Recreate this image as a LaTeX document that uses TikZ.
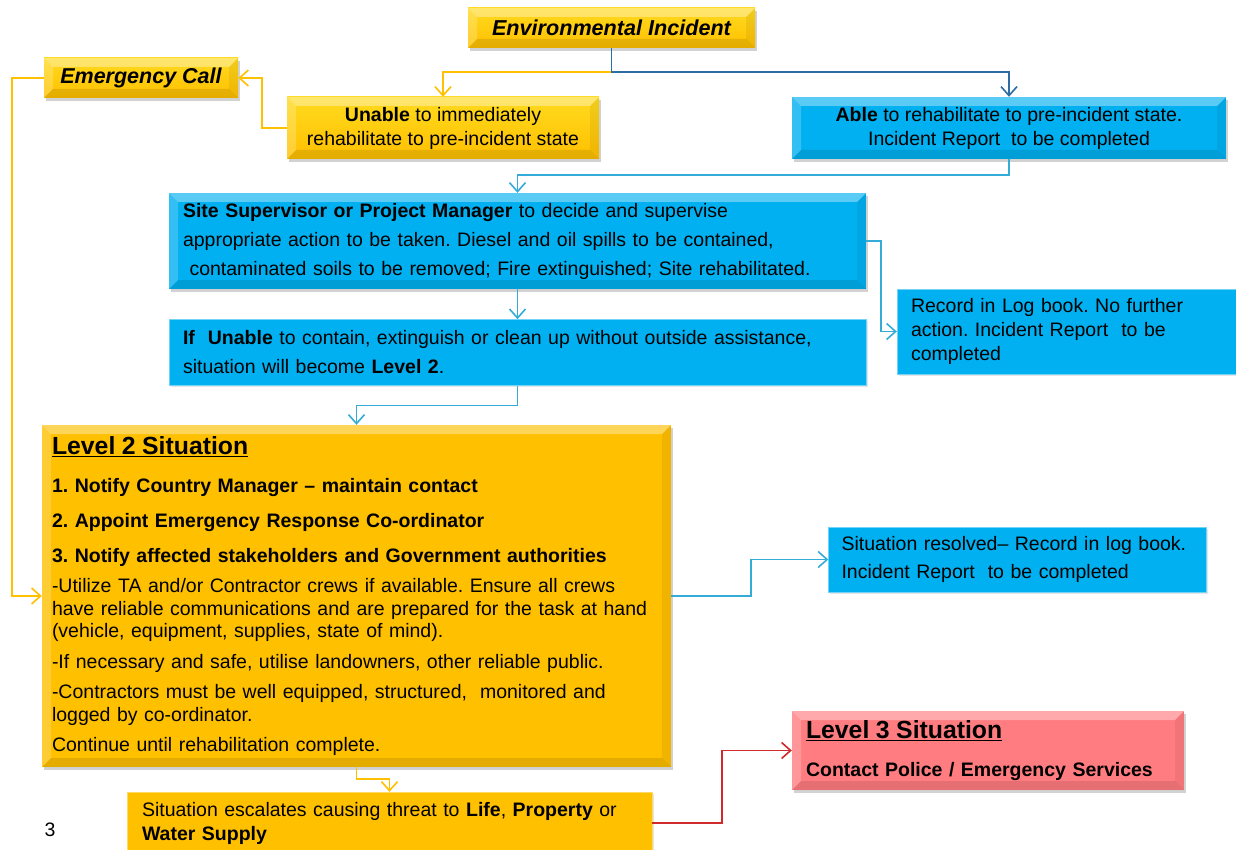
\documentclass[tikz,border=0pt]{standalone}
\usepackage{fontspec}
\setmainfont{Liberation Sans}
\usetikzlibrary{arrows.meta, positioning, shadows}
\frenchspacing

\definecolor{gold}{HTML}{FFC000}
\definecolor{goldlight}{HTML}{FFDA1F}
\definecolor{skyblue}{HTML}{00B0F0}
\definecolor{rosered}{HTML}{FF7C80}
\definecolor{cyanline}{HTML}{35ACD8}
\definecolor{navyline}{HTML}{2E6DA4}
\definecolor{redline}{HTML}{D02A2A}

\tikzstyle{bevel}=[path picture={
  \fill[white, opacity=0.35] (path picture bounding box.north west) -- (path picture bounding box.north east)
    -- ([xshift=-9pt,yshift=-9pt]path picture bounding box.north east) -- ([xshift=9pt,yshift=-9pt]path picture bounding box.north west) -- cycle;
  \fill[white, opacity=0.2] (path picture bounding box.north west) -- (path picture bounding box.south west)
    -- ([xshift=9pt,yshift=9pt]path picture bounding box.south west) -- ([xshift=9pt,yshift=-9pt]path picture bounding box.north west) -- cycle;
  \fill[black, opacity=0.06] (path picture bounding box.north east) -- (path picture bounding box.south east)
    -- ([xshift=-9pt,yshift=9pt]path picture bounding box.south east) -- ([xshift=-9pt,yshift=-9pt]path picture bounding box.north east) -- cycle;
  \fill[black, opacity=0.1] (path picture bounding box.south west) -- (path picture bounding box.south east)
    -- ([xshift=-9pt,yshift=9pt]path picture bounding box.south east) -- ([xshift=9pt,yshift=9pt]path picture bounding box.south west) -- cycle;
}]
\tikzstyle{box}=[rectangle, inner sep=0pt, font=\fontsize{19.5}{22.5}\selectfont]
\tikzstyle{goldbox}=[box, fill=gold, bevel, drop shadow={opacity=0.35, shadow xshift=2pt, shadow yshift=-3pt}]
\tikzstyle{bluebox}=[box, fill=skyblue, bevel, drop shadow={opacity=0.35, shadow xshift=2pt, shadow yshift=-3pt}]
\tikzstyle{flatblue}=[box, fill=skyblue, draw=skyblue!55!white, drop shadow={opacity=0.2, shadow xshift=1.5pt, shadow yshift=-2pt}]
\tikzstyle{flatgold}=[box, fill=gold, draw=gold!60!white, drop shadow={opacity=0.2, shadow xshift=1.5pt, shadow yshift=-2pt}]
\tikzstyle{pinkbox}=[box, fill=rosered, bevel, drop shadow={opacity=0.35, shadow xshift=2pt, shadow yshift=-3pt}]
\tikzstyle{link}=[->, line width=1.6pt, >={Straight Barb[length=9pt, width=16pt]}]

\begin{document}
\begin{tikzpicture}[x=1pt, y=-1pt]
\useasboundingbox[fill=white] (0,0) rectangle (1236,850);

% Incident and first split
\node[goldbox, top color=goldlight, bottom color=gold, minimum width=287pt, minimum height=40pt,
  font=\fontsize{21.6}{24}\selectfont\bfseries\itshape] (incident) at (611.5,28) {Environmental Incident};
\node[goldbox, top color=goldlight, bottom color=gold, minimum width=194pt, minimum height=40pt,
  font=\fontsize{21.5}{24}\selectfont\bfseries\itshape] (emergency) at (141,78) {Emergency Call};
\node[goldbox, top color=goldlight, bottom color=gold, minimum width=312pt, minimum height=62pt, align=center,
  font=\fontsize{19.5}{24}\selectfont] (unable) at (443,128) {\textbf{Unable} to immediately\\rehabilitate to pre-incident state};
\node[bluebox, minimum width=434pt, minimum height=62pt, align=center,
  font=\fontsize{19.5}{24}\selectfont] (able) at (1009,128) {\textbf{Able} to rehabilitate to pre-incident state.\\Incident Report\ \ to be completed};

% Level 1 handling
\node[bluebox, minimum width=697pt, minimum height=96pt, inner xsep=14pt, text width=669pt, align=left,
  font=\fontsize{19.5}{29}\selectfont] (supervisor) at (517.5,241)
  {\textbf{Site Supervisor or Project Manager} to decide and supervise\\appropriate action to be taken. Diesel and oil spills to be contained,\\\ contaminated soils to be removed; Fire extinguished; Site rehabilitated.};
\node[flatblue, below=30pt of supervisor, minimum width=697pt, minimum height=66pt, inner xsep=14pt, text width=669pt, align=left,
  font=\fontsize{19.5}{29}\selectfont] (unable2)
  {\textbf{If\ \ Unable} to contain, extinguish or clean up without outside assistance,\\situation will become \textbf{Level 2}.};
\node[flatblue, minimum width=339pt, minimum height=85pt, inner xsep=14pt, text width=311pt, align=left,
  font=\fontsize{19.5}{24}\selectfont] (logbook) at (1066.5,331.5)
  {Record in Log book. No further\\action. Incident Report\ \ to be\\completed};

% Level 2
\node[goldbox, minimum width=629pt, minimum height=342pt, inner xsep=10pt, text width=609pt, align=left] (level2) at (356.5,596)
  {{\fontsize{24.8}{28}\selectfont\bfseries\underline{Level 2 Situation}}\\[15.5pt]
   \textbf{1. Notify Country Manager -- maintain contact}\\[12.5pt]
   \textbf{2. Appoint Emergency Response Co-ordinator}\\[12.5pt]
   \textbf{3. Notify affected stakeholders and Government authorities}\\[7.5pt]
   -Utilize TA and/or Contractor crews if available. Ensure all crews\\
   have reliable communications and are prepared for the task at hand\\
   (vehicle, equipment, supplies, state of mind).\\[8.5pt]
   -If necessary and safe, utilise landowners, other reliable public.\\[7.5pt]
   -Contractors must be well equipped, structured,\ \ monitored and\\
   logged by co-ordinator.\\[7.5pt]
   Continue until rehabilitation complete.};
\node[flatblue, minimum width=375pt, minimum height=65pt, inner xsep=13pt, text width=352pt, align=left,
  font=\fontsize{19.5}{28}\selectfont] (resolved) at (1017.5,559.5)
  {Situation resolved-- Record in log book.\\Incident Report\ \ to be completed};

% Level 3
\node[flatgold, minimum width=525pt, minimum height=62pt, inner xsep=15pt, text width=495pt, align=left,
  font=\fontsize{19.5}{24}\selectfont] (escalate) at (389.5,823)
  {Situation escalates causing threat to \textbf{Life}, \textbf{Property} or\\\textbf{Water Supply}};
\node[pinkbox, minimum width=392pt, minimum height=79pt, inner xsep=14pt, text width=364pt, align=left] (level3) at (988,750.5)
  {{\fontsize{24.8}{28}\selectfont\bfseries\underline{Level 3 Situation}}\\[15.5pt]
   \textbf{Contact Police / Emergency Services}};

\node[box] (pagenum) at (50,830) {3};

% Flow arrows
\draw[link, gold] (incident.south) -- ++(0,24) -| (unable.north);
\draw[link, navyline] (incident.south) -- ++(0,24) -| (able.north);
\draw[link, gold] (unable.west) -- ++(-25,0) |- (emergency.east);
\draw[link, gold] (emergency.west) -- ++(-32,0) |- (level2.west);
\draw[link, cyanline] (able.south) -- ++(0,16) -| (supervisor.north);
\draw[link, cyanline] (supervisor.south) -- (unable2.north);
\draw[link, cyanline] (supervisor.east) -- ++(15,0) |- (logbook.west);
\draw[link, cyanline] (unable2.south) -- ++(0,20) -| (level2.north);
\draw[link, cyanline] (level2.east) -- ++(80,0) |- (resolved.west);
\draw[link, gold] (level2.south) -- ++(0,12) -| (escalate.north);
\draw[link, redline] (escalate.east) -- ++(70,0) |- (level3.west);

\end{tikzpicture}
\end{document}
